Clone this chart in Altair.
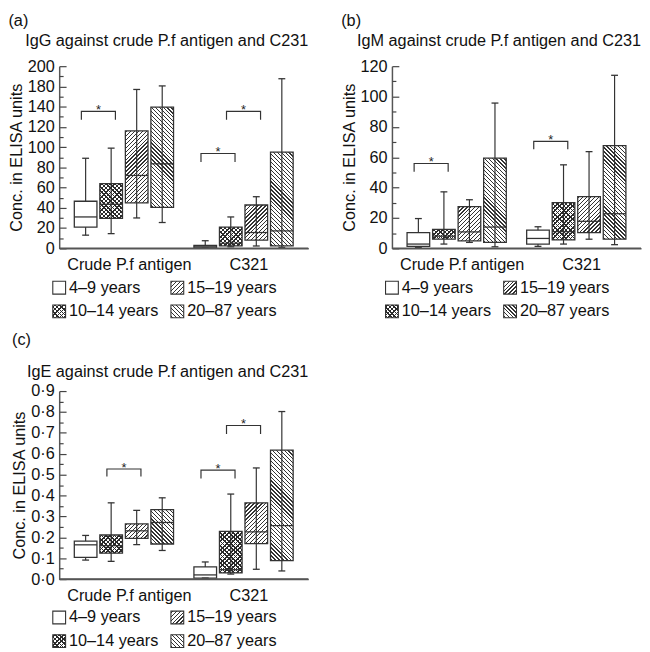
import json
import altair as alt

FONT = "Liberation Sans"
FS = 16.5
INK = "#333333"
W = 253            # plot width of each panel
BW = 23            # box width (px)
STEP = 27 / (W / 2)  # spacing of boxes, in group units
EXT = 4.5 / (W / 2)  # bracket overhang, in group units

GROUPS = ["Crude P.f antigen", "C321"]
AGES = ["4–9 years", "10–14 years", "15–19 years", "20–87 years"]
FILLS = ["open", "cross", "up", "down"]

# [min, q1, median, q3, max] for each age group
IGG_CRUDE = [[13, 21, 31, 46.5, 89], [14.5, 29.5, 43.5, 64, 99],
             [30, 45, 72, 116, 157], [25.5, 40.5, 83.5, 139.5, 160.5]]
IGG_C321 = [[0.3, 0.5, 1.5, 3, 7.5], [1.5, 2.3, 5, 21, 31],
            [2.3, 8.1, 15.6, 42.8, 51], [1, 2.3, 17.2, 95, 167.6]]
IGG_BRACKETS = [("Crude P.f antigen", "4–9 years", "10–14 years", 127, 135.3),
                ("C321", "4–9 years", "10–14 years", 85.3, 93.7),
                ("C321", "10–14 years", "15–19 years", 127, 135.3)]
IGG_TICKS = [0, 20, 40, 60, 80, 100, 120, 140, 160, 180]
IGG_LABELS = ["0", "20", "40", "60", "80", "100", "120", "140", "180", "200"]
IGG_MINOR = [10, 30, 50, 70, 90, 110, 130, 150, 170]

IGM_CRUDE = [[0.6, 1.3, 2.8, 10.3, 19.6], [2.8, 6, 8, 12.5, 37.2],
             [3.9, 4.9, 10.8, 27.5, 32], [1, 3.9, 14, 59.4, 95.7]]
IGM_C321 = [[1.3, 2.8, 6.5, 12, 14.2], [2.8, 5.6, 11, 30.1, 55],
            [6, 10.3, 17.8, 34, 63.7], [2.4, 6, 22.8, 67.7, 114]]
IGM_BRACKETS = [("Crude P.f antigen", "4–9 years", "10–14 years", 50.5, 55.9),
                ("C321", "4–9 years", "10–14 years", 65.2, 70.5)]
IGM_TICKS = [0, 20, 40, 60, 80, 100, 120]
IGM_LABELS = ["0", "20", "40", "60", "80", "100", "120"]
IGM_MINOR = [10, 30, 50, 70, 90, 110]

IGE_CRUDE = [[0.091, 0.104, 0.164, 0.182, 0.209], [0.085, 0.124, 0.16, 0.211, 0.365],
             [0.165, 0.195, 0.231, 0.264, 0.329], [0.137, 0.168, 0.271, 0.333, 0.389]]
IGE_C321 = [[0.005, 0.005, 0.02, 0.058, 0.082], [0.024, 0.03, 0.045, 0.228, 0.407],
            [0.047, 0.17, 0.226, 0.365, 0.532], [0.039, 0.088, 0.256, 0.617, 0.802]]
IGE_BRACKETS = [("Crude P.f antigen", "10–14 years", "15–19 years", 0.491, 0.527),
                ("C321", "4–9 years", "10–14 years", 0.481, 0.522),
                ("C321", "10–14 years", "15–19 years", 0.694, 0.735)]
IGE_TICKS = [0, 0.1, 0.2, 0.3, 0.4, 0.5, 0.6, 0.7, 0.8, 0.9]
IGE_LABELS = ["0·0", "0·1", "0·2", "0·3", "0·4", "0·5", "0·6", "0·7", "0·8", "0·9"]
IGE_MINOR = [0.05, 0.15, 0.25, 0.35, 0.45, 0.55, 0.65, 0.75, 0.85]

CLEAR = "rgba(255,255,255,0)"


def hatch(w, h, kind, period, duty, color=INK):
    """Diagonal stripes as a hard-stop linear gradient in box units."""
    k = (w + h) / (w * w + h * h)
    if kind == "up":
        g = {"x1": 0, "y1": 0, "x2": k * w, "y2": k * h}
    else:
        g = {"x1": 0, "y1": 1, "x2": k * w, "y2": 1 - k * h}
    L = w + h
    stops = [{"offset": 0, "color": CLEAR}]
    c = period * 0.3
    while c < L:
        a = round(c / L, 5)
        b = round(min((c + duty * period) / L, 1), 5)
        stops += [{"offset": a, "color": CLEAR}, {"offset": a, "color": color},
                  {"offset": b, "color": color}, {"offset": b, "color": CLEAR}]
        c += period
    stops.append({"offset": 1, "color": CLEAR})
    return {"gradient": "linear", **g, "stops": stops}


def fills(kind, w, h):
    if kind == "open":
        return "#ffffff", None
    if kind == "cross":
        return (hatch(w, h, "up", 4.4, 0.36, "#2a2a2a"),
                hatch(w, h, "down", 4.4, 0.36, "#2a2a2a"))
    return hatch(w, h, kind, 4.0, 0.33), None


def pos(g, a):
    return g + (a - 1.5) * STEP


def panel(label, title, stats, brackets, ymax, ticks, labels, minors, H,
          toff, loff, legsp):
    recs = []
    for g, grp in enumerate(GROUPS):
        for a, age in enumerate(AGES):
            lo, q1, med, q3, hi = stats[g][a]
            h = max((q3 - q1) * H / ymax, 1.0)
            f1, f2 = fills(FILLS[a], BW, h)
            recs.append(dict(group=grp, age=age, pos=pos(g, a), lo=lo, q1=q1,
                             med=med, q3=q3, hi=hi, f1=f1, f2=f2))
    path, stars = [], []
    for i, (grp, a1, a2, bottom, top) in enumerate(brackets):
        g = GROUPS.index(grp)
        x1 = pos(g, AGES.index(a1)) - EXT
        x2 = pos(g, AGES.index(a2)) + EXT
        for s, (bx, by) in enumerate([(x1, bottom), (x1, top), (x2, top), (x2, bottom)]):
            path.append(dict(id=i, seq=s, bx=bx, by=by))
        stars.append(dict(mx=(x1 + x2) / 2, top=top))

    xs = alt.Scale(domain=[-0.5, 1.5], nice=False, zero=False)
    ys = alt.Scale(domain=[0, ymax], nice=False, zero=True)
    lab_expr = f"{json.dumps(labels)}[indexof({json.dumps(ticks)}, datum.value)]"
    x_axis = alt.Axis(values=[0, 1], labelExpr=f"{json.dumps(GROUPS)}[datum.value]",
                      ticks=False, tickSize=0, labelPadding=9, labelOffset=5,
                      labelFlush=False, title=None, grid=False, domain=True,
                      domainColor="#555", domainWidth=1.5)

    def X(field):
        return alt.X(field, scale=xs, axis=x_axis)

    base = alt.Chart(alt.Data(values=recs))

    whisk = base.mark_rule(color=INK, strokeWidth=1.2, opacity=1).encode(
        x=X("pos:Q"),
        y=alt.Y("lo:Q", scale=ys, axis=alt.Axis(orient="right", offset=-W, values=ticks,
                                                labels=False, domain=False, tickSize=7,
                                                title=None, grid=False)),
        y2="hi:Q")
    box1 = base.mark_bar(size=BW, strokeWidth=0, opacity=1).encode(
        x=X("pos:Q"),
        y=alt.Y("q1:Q", scale=ys,
                axis=alt.Axis(orient="left", values=ticks, labelExpr=lab_expr,
                              title="Conc. in ELISA units", ticks=False, tickSize=0,
                              labelPadding=5, titlePadding=3, grid=False,
                              labelOverlap=False)),
        y2="q3:Q",
        fill=alt.Fill("f1:N", scale=None))
    box2 = base.transform_filter("datum.f2 != null").mark_bar(
        size=BW, strokeWidth=0, opacity=1).encode(
        x=X("pos:Q"), y=alt.Y("q1:Q", scale=ys, axis=None), y2="q3:Q",
        fill=alt.Fill("f2:N", scale=None))
    outline = base.mark_bar(size=BW, fillOpacity=0, stroke=INK, strokeWidth=1.3,
                            opacity=1).encode(
        x=X("pos:Q"), y=alt.Y("q1:Q", scale=ys, axis=None), y2="q3:Q")
    med = base.mark_tick(orient="horizontal", size=BW, thickness=1.3, color=INK,
                         opacity=1).encode(
        x=X("pos:Q"), y=alt.Y("med:Q", scale=ys, axis=None))
    cap_lo = base.mark_tick(orient="horizontal", size=7, thickness=1.3, color=INK,
                            opacity=1).encode(
        x=X("pos:Q"),
        y=alt.Y("lo:Q", scale=ys, axis=alt.Axis(orient="right", offset=-W, values=minors,
                                                labels=False, domain=False, tickSize=4,
                                                title=None, grid=False)))
    cap_hi = base.mark_tick(orient="horizontal", size=7, thickness=1.3, color=INK,
                            opacity=1).encode(
        x=X("pos:Q"), y=alt.Y("hi:Q", scale=ys, axis=None))
    brk = alt.Chart(alt.Data(values=path)).mark_line(color=INK, strokeWidth=1.2,
                                                      opacity=1).encode(
        x=X("bx:Q"), y=alt.Y("by:Q", scale=ys, axis=None),
        detail="id:N", order="seq:O")
    star = alt.Chart(alt.Data(values=stars)).mark_text(
        text="*", fontSize=13, baseline="alphabetic", dy=3, color="#222").encode(
        x=X("mx:Q"), y=alt.Y("top:Q", scale=ys, axis=None))
    # x-axis base line along zero
    baseline = alt.Chart(alt.Data(values=[{"zero": 0}])).mark_rule(
        color="#555555", strokeWidth=1.6, opacity=1).encode(
        y=alt.Y("zero:Q", scale=ys, axis=None), x=alt.value(0), x2=alt.value(W))

    plot = alt.layer(whisk, box1, box2, outline, med, cap_lo, cap_hi, brk, star,
                     baseline).properties(
        width=W, height=H,
        title=alt.TitleParams(title, anchor="end", frame="group", offset=toff))

    leg = []
    for a, age in enumerate(AGES):
        f1, f2 = fills(FILLS[a], 13, 13)
        leg.append(dict(age=age, col=a // 2, row=a % 2, f1=f1, f2=f2))
    lb = alt.Chart(alt.Data(values=leg)).encode(
        x=alt.X("col:O", scale=alt.Scale(type="point", padding=0), axis=None),
        y=alt.Y("row:O", scale=alt.Scale(type="point", padding=0), axis=None))
    sw1 = lb.mark_square(size=169, strokeWidth=0, opacity=1).encode(
        fill=alt.Fill("f1:N", scale=None))
    sw2 = lb.transform_filter("datum.f2 != null").mark_square(
        size=169, strokeWidth=0, opacity=1).encode(fill=alt.Fill("f2:N", scale=None))
    swo = lb.mark_square(size=169, filled=False, stroke=INK, strokeWidth=1.1, opacity=1)
    txt = lb.mark_text(align="left", baseline="middle", dx=10, fontSize=FS,
                       color="#111").encode(text="age:N")
    legend = alt.layer(sw1, sw2, swo, txt).properties(width=120, height=24)

    return alt.vconcat(plot, legend, spacing=legsp,
                       title=alt.TitleParams(label, anchor="start", offset=loff))


pa = panel("(a)", "IgG against crude P.f antigen and C231", [IGG_CRUDE, IGG_C321],
           IGG_BRACKETS, 180, IGG_TICKS, IGG_LABELS, IGG_MINOR, 185, 9, 4, 5)
pb = panel("(b)", "IgM against crude P.f antigen and C231", [IGM_CRUDE, IGM_C321],
           IGM_BRACKETS, 120, IGM_TICKS, IGM_LABELS, IGM_MINOR, 185, 9, 4, 5)
pc = panel("(c)", "IgE against crude P.f antigen and C231", [IGE_CRUDE, IGE_C321],
           IGE_BRACKETS, 0.9, IGE_TICKS, IGE_LABELS, IGE_MINOR, 191, 3, 16, 4)

chart = alt.vconcat(alt.hconcat(pa, pb, spacing=32), pc, spacing=12).properties(
    padding=0
).configure_view(stroke=None).configure_axis(
    labelFont=FONT, titleFont=FONT, labelFontSize=FS, titleFontSize=FS,
    labelColor="#111", titleColor="#111", titleFontWeight="normal",
    domainColor="#555", domainWidth=1.5, tickColor="#444", tickWidth=1.2, grid=False
).configure_title(
    font=FONT, fontSize=FS, fontWeight="normal", color="#111"
).configure_text(font=FONT)

chart.save("out.html", embed_options={"renderer": "svg", "actions": False})
